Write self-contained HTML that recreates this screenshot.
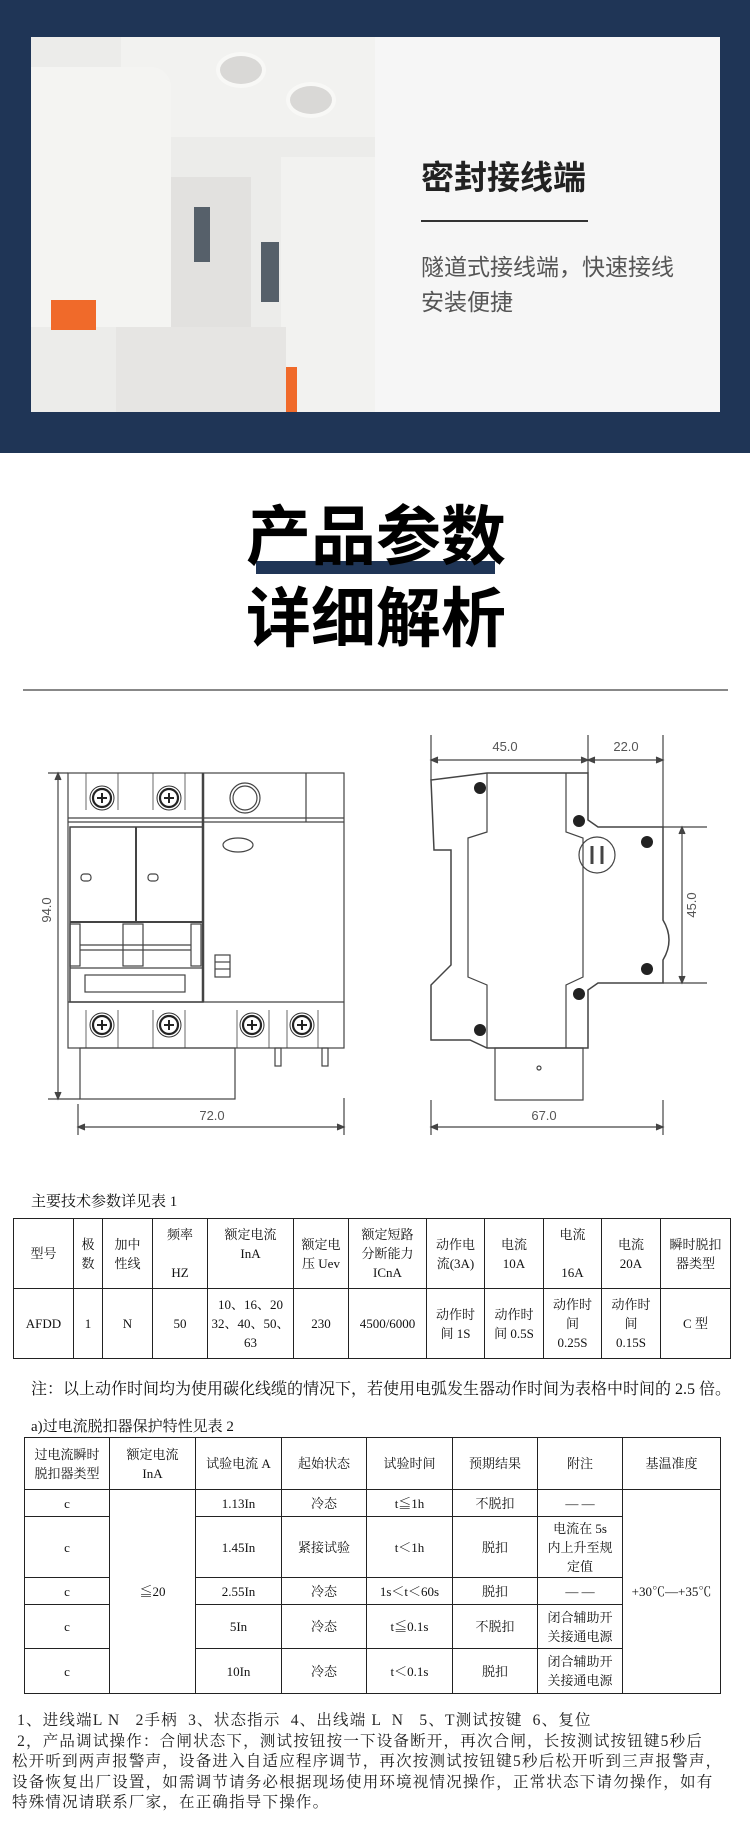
<!DOCTYPE html>
<html><head><meta charset="utf-8"><style>
*{margin:0;padding:0;box-sizing:border-box}
body{width:750px;height:1832px;position:relative;background:#fff;overflow:hidden;font-family:"Liberation Serif","Noto Serif CJK SC",serif;color:#111}
.a{position:absolute}
.sans{font-family:"Liberation Sans","Noto Sans CJK SC",sans-serif}
table{border-collapse:collapse;position:absolute;table-layout:fixed}
td{border:1.5px solid #222;text-align:center;vertical-align:middle;font-size:13px;line-height:19px;padding:0}
</style></head><body>
<!-- top navy -->
<div class="a" style="left:0;top:0;width:750px;height:453px;background:#1f3556"></div>
<div class="a" style="left:31px;top:37px;width:689px;height:375px;background:#f6f6f6"></div>
<!-- photo approximation -->
<div class="a" style="left:31px;top:37px;width:344px;height:375px;background:#ececea;overflow:hidden">
  <div class="a" style="left:90px;top:0;width:254px;height:100px;background:#f2f2f0"></div>
  <div class="a" style="left:185px;top:15px;width:50px;height:36px;border-radius:50%;background:#d9d8d6;border:4px solid #f8f8f6"></div>
  <div class="a" style="left:255px;top:45px;width:50px;height:36px;border-radius:50%;background:#d9d8d6;border:4px solid #f8f8f6"></div>
  <div class="a" style="left:0;top:30px;width:140px;height:260px;background:#f4f4f2;border-radius:0 20px 0 0"></div>
  <div class="a" style="left:140px;top:140px;width:80px;height:180px;background:#e2e1df"></div>
  <div class="a" style="left:163px;top:170px;width:16px;height:55px;background:#56606a"></div>
  <div class="a" style="left:230px;top:205px;width:18px;height:60px;background:#56606a"></div>
  <div class="a" style="left:250px;top:120px;width:94px;height:255px;background:#f2f2f0"></div>
  <div class="a" style="left:20px;top:263px;width:45px;height:30px;background:#f06a2a"></div>
  <div class="a" style="left:196px;top:330px;width:70px;height:45px;background:#f06a2a"></div>
  <div class="a" style="left:85px;top:290px;width:170px;height:85px;background:#e6e5e3"></div>
</div>
<div class="a sans" style="left:421px;top:158px;font-size:33px;font-weight:bold;color:#222;line-height:40px;letter-spacing:0px">密封接线端</div>
<div class="a" style="left:421px;top:220px;width:167px;height:1.5px;background:#333"></div>
<div class="a sans" style="left:421px;top:250px;font-size:23px;color:#555;line-height:35px">隧道式接线端，快速接线<br>安装便捷</div>

<!-- title -->
<div class="a" style="left:256px;top:561px;width:239px;height:13px;background:#1f3556"></div>
<div class="a sans" style="left:240px;top:497px;width:272px;text-align:center;font-size:65px;font-weight:bold;line-height:80px;color:#000;mix-blend-mode:multiply">产品参数</div>
<div class="a sans" style="left:240px;top:579px;width:272px;text-align:center;font-size:65px;font-weight:bold;line-height:80px;color:#000">详细解析</div>
<div class="a" style="left:23px;top:689px;width:705px;height:2px;background:#888"></div>

<!-- diagrams -->
<svg class="a" style="left:0;top:700px" width="750" height="450" viewBox="0 700 750 450" fill="none" stroke="#444" stroke-width="1.2">
 <defs>
  <g id="sc"><circle r="12" stroke="#333" stroke-width="1"/><circle r="9" stroke="#222" stroke-width="2.2"/><path d="M-5 0 H5 M0 -5 V5" stroke="#222" stroke-width="2"/></g>
 </defs>
 <g font-family="Liberation Sans,sans-serif" font-size="13" fill="#555" stroke="none">
  <text x="212" y="1120" text-anchor="middle">72.0</text>
  <text x="505" y="751" text-anchor="middle">45.0</text>
  <text x="626" y="751" text-anchor="middle">22.0</text>
  <text x="544" y="1120" text-anchor="middle">67.0</text>
  <text transform="translate(51,910) rotate(-90)" text-anchor="middle">94.0</text>
  <text transform="translate(696,905) rotate(-90)" text-anchor="middle">45.0</text>
 </g>
 <!-- front view -->
 <rect x="68" y="773" width="276" height="275"/>
 <line x1="68" y1="818" x2="344" y2="818"/><line x1="68" y1="822" x2="344" y2="822"/>
 <line x1="203" y1="773" x2="203" y2="1002" stroke-width="2.5"/>
 <line x1="306" y1="773" x2="306" y2="822"/>
 <line x1="68" y1="1002" x2="344" y2="1002"/>
 <rect x="70" y="827" width="133" height="175" stroke-width="1.5"/>
 <line x1="136" y1="827" x2="136" y2="922" stroke-width="2"/>
 <line x1="70" y1="922" x2="203" y2="922" stroke-width="2"/>
 <rect x="70" y="924" width="10" height="42"/><rect x="123" y="924" width="20" height="42"/><rect x="191" y="924" width="10" height="42"/>
 <line x1="80" y1="945" x2="191" y2="945"/><line x1="80" y1="950" x2="191" y2="950"/>
 <rect x="85" y="975" width="100" height="17"/><line x1="70" y1="968" x2="203" y2="968"/>
 <rect x="81" y="874" width="10" height="7" rx="3"/><rect x="148" y="874" width="10" height="7" rx="3"/>
 <ellipse cx="238" cy="845" rx="15" ry="7"/>
 <rect x="215" y="955" width="15" height="22"/><line x1="215" y1="962" x2="230" y2="962"/><line x1="215" y1="969" x2="230" y2="969"/>
 <circle cx="245" cy="798" r="15"/><circle cx="245" cy="798" r="12"/>
 <path d="M86 773 V810 M118 773 V810 M153 773 V810 M185 773 V810 M86 1048 V1010 M118 1048 V1010 M153 1048 V1010 M185 1048 V1010 M237 1048 V1010 M269 1048 V1010 M287 1048 V1010 M318 1048 V1010" stroke-width="0.8"/>
 <use href="#sc" x="102" y="798"/><use href="#sc" x="169" y="798"/>
 <use href="#sc" x="102" y="1025"/><use href="#sc" x="169" y="1025"/><use href="#sc" x="252" y="1025"/><use href="#sc" x="302" y="1025"/>
 <rect x="80" y="1048" width="155" height="51"/>
 <rect x="275" y="1048" width="6" height="18"/><rect x="322" y="1048" width="6" height="18"/>
 <line x1="58" y1="773" x2="58" y2="1099"/><line x1="48" y1="773" x2="68" y2="773"/><line x1="48" y1="1099" x2="80" y2="1099"/>
 <path d="M55 780 L58 773 L61 780 M55 1092 L58 1099 L61 1092" fill="#444"/>
 <line x1="78" y1="1127" x2="344" y2="1127"/><line x1="78" y1="1104" x2="78" y2="1135"/><line x1="344" y1="1098" x2="344" y2="1135"/>
 <path d="M85 1124 L78 1127 L85 1130 M337 1124 L344 1127 L337 1130" fill="#444"/>
 <!-- side view -->
 <path d="M487 773 L588 773 L588 820 L598 827 L663 827 L663 920 Q675 940 663 960 L663 983 L598 983 L588 990 L588 1048 L487 1048 L470 1040 L431 1040 L431 985 L451 965 L451 850 L434 850 L431 780 L487 773 Z" stroke-width="1.5"/>
 <path d="M487 773 L487 832 L468 838 L468 977 L487 985 L487 1048"/>
 <path d="M566 773 L566 832 L583 838 L583 977 L566 985 L566 1048"/>
 <circle cx="597" cy="855" r="18"/><line x1="592" y1="846" x2="592" y2="864" stroke-width="3"/><line x1="602" y1="846" x2="602" y2="864" stroke-width="3"/>
 <g fill="#222" stroke="none">
  <circle cx="480" cy="788" r="6"/><circle cx="579" cy="821" r="6"/><circle cx="647" cy="842" r="6"/><circle cx="647" cy="969" r="6"/><circle cx="579" cy="994" r="6"/><circle cx="480" cy="1030" r="6"/>
 </g>
 <rect x="495" y="1048" width="88" height="52"/><circle cx="539" cy="1068" r="2"/>
 <line x1="431" y1="735" x2="431" y2="780"/><line x1="588" y1="735" x2="588" y2="773"/><line x1="663" y1="735" x2="663" y2="827"/>
 <line x1="431" y1="760" x2="663" y2="760"/>
 <path d="M438 757 L431 760 L438 763 M581 757 L588 760 L581 763 M595 757 L588 760 L595 763 M656 757 L663 760 L656 763" fill="#444"/>
 <line x1="663" y1="827" x2="707" y2="827"/><line x1="663" y1="983" x2="707" y2="983"/><line x1="682" y1="827" x2="682" y2="983"/>
 <path d="M679 834 L682 827 L685 834 M679 976 L682 983 L685 976" fill="#444"/>
 <line x1="431" y1="1100" x2="431" y2="1135"/><line x1="663" y1="1100" x2="663" y2="1135"/><line x1="431" y1="1127" x2="663" y2="1127"/>
 <path d="M438 1124 L431 1127 L438 1130 M656 1124 L663 1127 L656 1130" fill="#444"/>
</svg>

<!-- table 1 -->
<div class="a" style="left:31px;top:1192px;font-size:15px;line-height:20px">主要技术参数详见表 1</div>
<table style="left:13px;top:1218px;width:717px">
<colgroup><col style="width:60px"><col style="width:29px"><col style="width:50px"><col style="width:55px"><col style="width:86px"><col style="width:55px"><col style="width:78px"><col style="width:58px"><col style="width:59px"><col style="width:58px"><col style="width:59px"><col style="width:70px"></colgroup>
<tr style="height:70px"><td>型号</td><td>极<br>数</td><td>加中<br>性线</td><td>频率<br><br>HZ</td><td>额定电流<br>InA<br><br></td><td>额定电<br>压 Uev</td><td>额定短路<br>分断能力<br>ICnA</td><td>动作电<br>流(3A)</td><td>电流<br>10A</td><td>电流<br><br>16A</td><td>电流<br>20A</td><td>瞬时脱扣<br>器类型</td></tr>
<tr style="height:70px"><td>AFDD</td><td>1</td><td>N</td><td>50</td><td>10、16、20<br>32、40、50、<br>63</td><td>230</td><td>4500/6000</td><td>动作时<br>间 1S</td><td>动作时<br>间 0.5S</td><td>动作时<br>间<br>0.25S</td><td>动作时<br>间<br>0.15S</td><td>C 型</td></tr>
</table>
<div class="a" style="left:31px;top:1380px;font-size:16px;line-height:20px">注：以上动作时间均为使用碳化线缆的情况下，若使用电弧发生器动作时间为表格中时间的 2.5 倍。</div>

<!-- table 2 -->
<div class="a" style="left:31px;top:1417px;font-size:15px;line-height:20px">a)过电流脱扣器保护特性见表 2</div>
<table style="left:24px;top:1437px;width:696px">
<colgroup><col style="width:85px"><col style="width:86px"><col style="width:86px"><col style="width:85px"><col style="width:86px"><col style="width:85px"><col style="width:85px"><col style="width:98px"></colgroup>
<tr style="height:52px"><td>过电流瞬时<br>脱扣器类型</td><td>额定电流<br>InA</td><td>试验电流 A</td><td>起始状态</td><td>试验时间</td><td>预期结果</td><td>附注</td><td>基温准度</td></tr>
<tr style="height:27px"><td>c</td><td rowspan="5">≦20</td><td>1.13In</td><td>冷态</td><td>t≦1h</td><td>不脱扣</td><td>— —</td><td rowspan="5">+30℃—+35℃</td></tr>
<tr style="height:61px"><td>c</td><td>1.45In</td><td>紧接试验</td><td>t＜1h</td><td>脱扣</td><td>电流在 5s<br>内上升至规<br>定值</td></tr>
<tr style="height:27px"><td>c</td><td>2.55In</td><td>冷态</td><td>1s＜t＜60s</td><td>脱扣</td><td>— —</td></tr>
<tr style="height:44px"><td>c</td><td>5In</td><td>冷态</td><td>t≦0.1s</td><td>不脱扣</td><td>闭合辅助开<br>关接通电源</td></tr>
<tr style="height:45px"><td>c</td><td>10In</td><td>冷态</td><td>t＜0.1s</td><td>脱扣</td><td>闭合辅助开<br>关接通电源</td></tr>
</table>

<div class="a" style="left:12px;top:1711px;width:738px;font-size:15.5px;line-height:20.6px;color:#222;letter-spacing:1.2px;white-space:nowrap">&nbsp;1、进线端L N &nbsp;&nbsp;2手柄 &nbsp;3、状态指示 &nbsp;4、出线端 L &nbsp;N &nbsp;&nbsp;5、T测试按键 &nbsp;6、复位<br>&nbsp;2，产品调试操作：合闸状态下，测试按钮按一下设备断开，再次合闸，长按测试按钮键5秒后<br>松开听到两声报警声，设备进入自适应程序调节，再次按测试按钮键5秒后松开听到三声报警声，<br>设备恢复出厂设置，如需调节请务必根据现场使用环境视情况操作，正常状态下请勿操作，如有<br>特殊情况请联系厂家，在正确指导下操作。</div>
</body></html>
